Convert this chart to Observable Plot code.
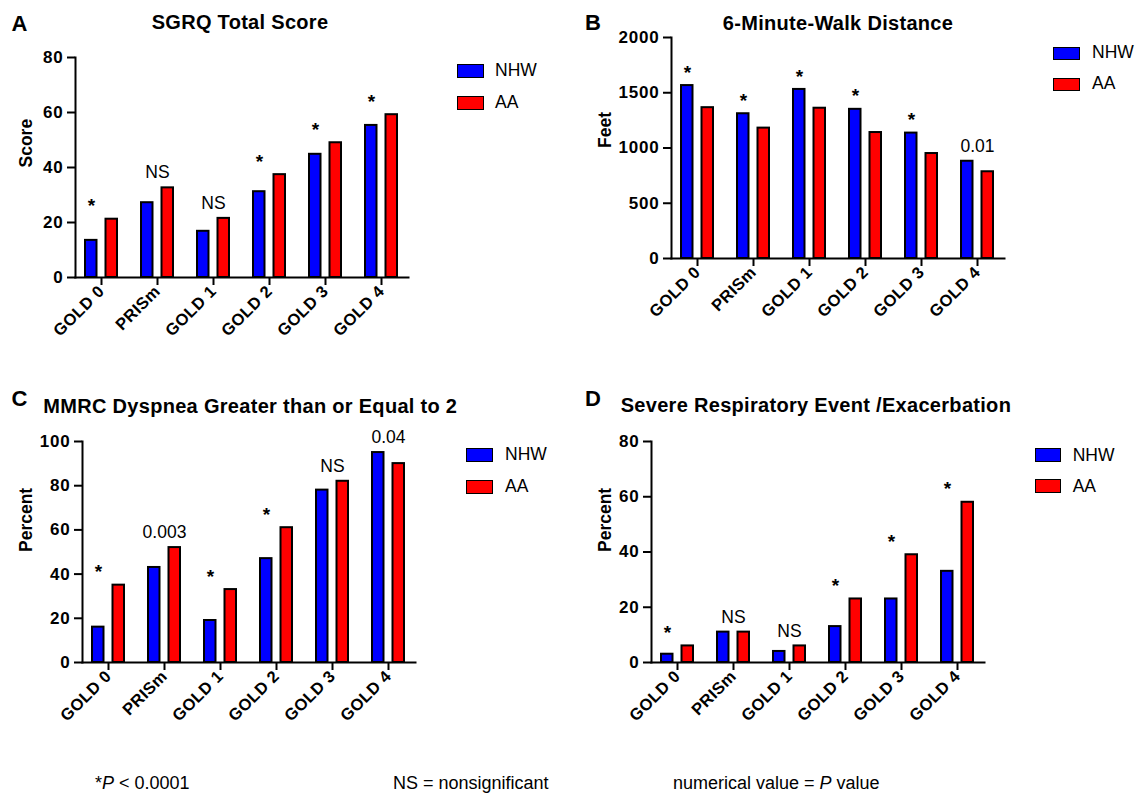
<!DOCTYPE html>
<html>
<head>
<meta charset="utf-8">
<script src="https://cdn.jsdelivr.net/npm/d3@7"></script>
<script src="https://cdn.jsdelivr.net/npm/@observablehq/plot@0.6"></script>
<style>
  html, body { margin: 0; padding: 0; background: #ffffff; }
  #root { position: relative; width: 1138px; height: 795px; overflow: hidden; font-family: "Liberation Sans", Arial, Helvetica, sans-serif; color: #000; }
  .abs { position: absolute; white-space: nowrap; }
  .sw { position: absolute; box-sizing: border-box; border: 1.6px solid #000; }
  #root svg g[aria-label="x-axis tick label"] text { font-size: 16.5px; font-weight: bold; letter-spacing: 0.4px; }
  #root svg g[aria-label="y-axis tick label"] text { font-size: 17px; font-weight: bold; letter-spacing: 0.8px; }
</style>
</head>
<body>
<div id="root"></div>
<script>
// ---------- data ----------
const groups = ["GOLD 0", "PRISm", "GOLD 1", "GOLD 2", "GOLD 3", "GOLD 4"];
const seriesNames = ["NHW", "AA"];
const seriesColors = ["#0000ff", "#ff0000"];

const sgrqNHW = [13.5, 27.2, 16.8, 31.2, 44.8, 55.3];
const sgrqAA  = [21.2, 32.6, 21.5, 37.4, 49.0, 59.2];
const sgrqP   = ["*", "NS", "NS", "*", "*", "*"];
const sgrqTicks = [0, 20, 40, 60, 80];

const walkNHW = [1565, 1310, 1530, 1350, 1135, 880];
const walkAA  = [1365, 1180, 1360, 1140, 950, 785];
const walkP   = ["*", "*", "*", "*", "*", "0.01"];
const walkTicks = [0, 500, 1000, 1500, 2000];

const mmrcNHW = [16, 43, 19, 47, 78, 95];
const mmrcAA  = [35, 52, 33, 61, 82, 90];
const mmrcP   = ["*", "0.003", "*", "*", "NS", "0.04"];
const mmrcTicks = [0, 20, 40, 60, 80, 100];

const sreNHW = [3, 11, 4, 13, 23, 33];
const sreAA  = [6, 11, 6, 23, 39, 58];
const sreP   = ["*", "NS", "NS", "*", "*", "*"];
const sreTicks = [0, 20, 40, 60, 80];

const footnotes = [
  {html: "*<i>P</i> &lt; 0.0001"},
  {html: "NS = nonsignificant"},
  {html: "numerical value = <i>P</i> value"}
];

// ---------- helpers ----------
const FONT = '"Liberation Sans", Arial, Helvetica, sans-serif';
const root = document.getElementById("root");

function rowsOf(nhw, aa) {
  return groups.flatMap((g, i) => [
    {group: g, series: seriesNames[0], value: nhw[i]},
    {group: g, series: seriesNames[1], value: aa[i]}
  ]);
}
function annotsOf(nhw, aa, p) {
  return groups.map((g, i) => ({group: g, top: Math.max(nhw[i], aa[i]), label: p[i]}));
}

// place text by baseline (Liberation Sans metrics)
function textAt(html, {x, baseline, size, weight = "normal", anchor = "start", spacing = 0}) {
  const d = document.createElement("div");
  d.className = "abs";
  d.innerHTML = html;
  d.style.fontSize = size + "px";
  d.style.lineHeight = size + "px";
  d.style.fontWeight = weight;
  d.style.letterSpacing = spacing + "px";
  d.style.top = (baseline - 0.8465 * size) + "px";
  d.style.left = x + "px";
  if (anchor === "middle") d.style.transform = "translateX(-50%)";
  root.appendChild(d);
}

function legend(x, y1, y2, textX, w, h) {
  [y1, y2].forEach((y, i) => {
    const s = document.createElement("div");
    s.className = "sw";
    s.style.left = x + "px"; s.style.top = y + "px";
    s.style.width = w + "px"; s.style.height = h + "px";
    s.style.background = seriesColors[i];
    root.appendChild(s);
    textAt(seriesNames[i], {x: textX, baseline: y + h / 2 + 6.3, size: 17.5});
  });
}

function panel({nhw, aa, p, ticks, yLabel, left, top, width, height, marginLeft, marginTop, plotH, labelDx}) {
  const rows = rowsOf(nhw, aa);
  const ann = annotsOf(nhw, aa, p);
  const marginRight = width - marginLeft - 333;
  const chart = Plot.plot({
    width, height, marginLeft, marginRight, marginTop,
    marginBottom: height - marginTop - plotH,
    style: {fontFamily: FONT, fontSize: "16px", color: "#000", background: "transparent", overflow: "visible"},
    x: {domain: groups, paddingInner: 0.137, paddingOuter: 0, label: null},
    y: {domain: [0, ticks[ticks.length - 1]], label: null},
    color: {domain: seriesNames, range: seriesColors},
    marks: [
      Plot.barY(rows.filter(d => d.series === seriesNames[0]), {
        x: "group", y: "value", fill: "series", stroke: "#000", strokeWidth: 2, insetLeft: 8, insetRight: 28.5
      }),
      Plot.barY(rows.filter(d => d.series === seriesNames[1]), {
        x: "group", y: "value", fill: "series", stroke: "#000", strokeWidth: 2, insetLeft: 28.5, insetRight: 8
      }),
      Plot.axisY({ticks, tickSize: 8, tickPadding: 4, strokeWidth: 2, fontWeight: "bold", fontSize: 17,
        tickFormat: d => String(d), label: null}),
      Plot.axisX({tickSize: 8, tickPadding: 3, tickRotate: -45, strokeWidth: 2, fontWeight: "bold", fontSize: 16.5, label: null}),
      Plot.frame({anchor: "left", strokeWidth: 2}),
      Plot.frame({anchor: "bottom", strokeWidth: 2}),
      Plot.text(ann.filter(d => d.label === "*"), {
        x: "group", y: "top", text: "label", dx: -10, dy: -13, fontSize: 19, fontWeight: "bold"
      }),
      Plot.text(ann.filter(d => d.label !== "*"), {
        x: "group", y: "top", text: "label", dy: -15, fontSize: 17.5, fontWeight: "normal"
      }),
      Plot.text([yLabel], {
        text: d => d, frameAnchor: "left", rotate: -90, dx: labelDx, fontSize: 17.5, fontWeight: "bold"
      })
    ]
  });
  chart.style.position = "absolute";
  chart.style.left = left + "px";
  chart.style.top = top + "px";
  root.appendChild(chart);
}

// ---------- panels ----------
panel({nhw: sgrqNHW, aa: sgrqAA, p: sgrqP, ticks: sgrqTicks, yLabel: "Score",
  left: 0, top: 0, width: 420, height: 360, marginLeft: 75, marginTop: 57, plotH: 220, labelDx: -49});
panel({nhw: walkNHW, aa: walkAA, p: walkP, ticks: walkTicks, yLabel: "Feet",
  left: 570, top: 0, width: 446, height: 360, marginLeft: 101, marginTop: 37, plotH: 221, labelDx: -66});
panel({nhw: mmrcNHW, aa: mmrcAA, p: mmrcP, ticks: mmrcTicks, yLabel: "Percent",
  left: 0, top: 390, width: 427, height: 340, marginLeft: 82, marginTop: 51, plotH: 221, labelDx: -56});
panel({nhw: sreNHW, aa: sreAA, p: sreP, ticks: sreTicks, yLabel: "Percent",
  left: 570, top: 390, width: 426, height: 340, marginLeft: 81, marginTop: 51, plotH: 221, labelDx: -46});

// ---------- titles, letters ----------
textAt("A", {x: 11.5, baseline: 31.5, size: 22, weight: "bold"});
textAt("SGRQ Total Score", {x: 240, baseline: 28.5, size: 20, weight: "bold", anchor: "middle", spacing: 0.3});
textAt("B", {x: 585, baseline: 30.5, size: 22, weight: "bold"});
textAt("6-Minute-Walk Distance", {x: 838, baseline: 30, size: 20, weight: "bold", anchor: "middle", spacing: 0.3});
textAt("C", {x: 11.5, baseline: 406.7, size: 22, weight: "bold"});
textAt("MMRC Dyspnea Greater than or Equal to 2", {x: 43.3, baseline: 413.3, size: 20, weight: "bold", spacing: 0.3});
textAt("D", {x: 585, baseline: 406.3, size: 22, weight: "bold"});
textAt("Severe Respiratory Event /Exacerbation", {x: 620.7, baseline: 411.7, size: 20, weight: "bold", spacing: 0.3});

// ---------- legends ----------
legend(456.7, 64, 96, 495, 27, 14);
legend(1053, 46.5, 77.5, 1092, 26.5, 13);
legend(466, 448, 480, 505, 27, 14);
legend(1035, 448.3, 479.3, 1072.7, 26, 14);

// ---------- footnotes ----------
const footX = [95, 393, 673];
footnotes.forEach((f, i) => textAt(f.html, {x: footX[i], baseline: 789.3, size: 18}));
</script>
</body>
</html>
